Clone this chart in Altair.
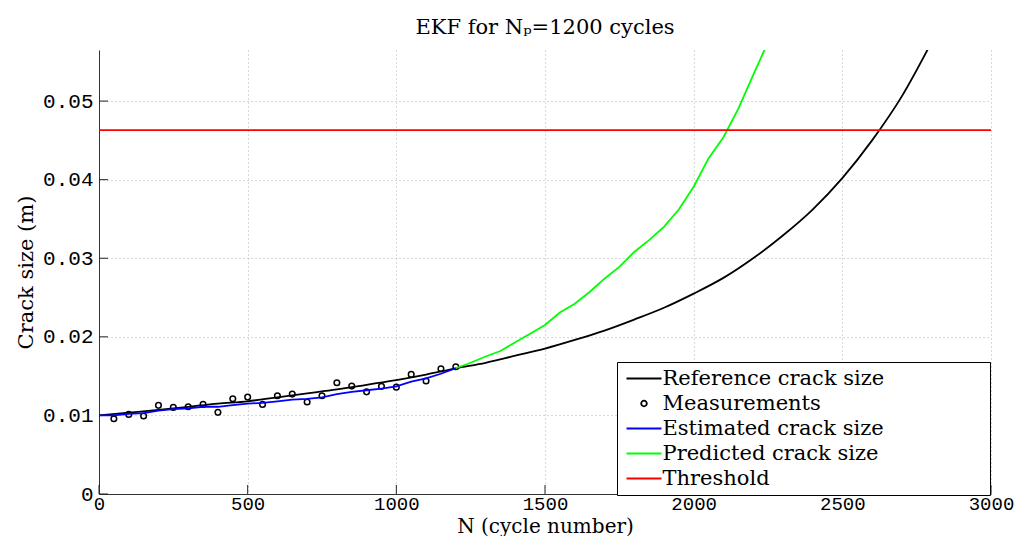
import altair as alt
import pandas as pd

# ---- data ----
series_names = ["Reference crack size", "Measurements", "Estimated crack size",
                "Predicted crack size", "Threshold"]
series_colors = ["#000000", "#000000", "#0000ff", "#00ff00", "#ff0000"]

ref_n = [0, 100, 200, 300, 400, 500, 600, 700, 800, 900, 1000, 1100, 1200, 1300,
         1400, 1500, 1600, 1700, 1800, 1900, 2000, 2100, 2200, 2300, 2400, 2500,
         2600, 2700, 2800]
ref_a = [0.0100, 0.01035, 0.0107, 0.0111, 0.0115, 0.0118, 0.0123, 0.0128, 0.0133,
         0.0139, 0.0145, 0.0152, 0.0160, 0.0167, 0.0176, 0.0185, 0.0196, 0.0208,
         0.0222, 0.0237, 0.0255, 0.0275, 0.0300, 0.0329, 0.0362, 0.0402, 0.0450,
         0.0506, 0.0575]

meas_n = [50, 100, 150, 200, 250, 300, 350, 400, 450, 500, 550, 600, 650, 700,
          750, 800, 850, 900, 950, 1000, 1050, 1100, 1150, 1200]
meas_a = [0.00957, 0.01013, 0.00992, 0.01128, 0.01102, 0.0111, 0.0114, 0.01039,
          0.01212, 0.01233, 0.0114, 0.0125, 0.01271, 0.0117, 0.0125, 0.01415,
          0.01373, 0.0130, 0.0137, 0.0136, 0.01522, 0.01437, 0.01593, 0.01619]

est_n = [0, 50, 100, 150, 200, 250, 300, 350, 400, 450, 500, 550, 600, 650, 700,
         750, 800, 850, 900, 950, 1000, 1050, 1100, 1150, 1200]
est_a = [0.0100, 0.0100, 0.0102, 0.0103, 0.0106, 0.0108, 0.0109, 0.0111, 0.0111,
         0.0113, 0.0115, 0.0116, 0.0118, 0.0120, 0.0121, 0.0123, 0.0127, 0.0130,
         0.0132, 0.0134, 0.0137, 0.0143, 0.0147, 0.0153, 0.0160]

pred_n = [1200, 1250, 1300, 1350, 1400, 1450, 1500, 1550, 1600, 1650, 1700, 1750,
          1800, 1850, 1900, 1950, 2000, 2050, 2100, 2150, 2200, 2250]
pred_a = [0.0160, 0.0167, 0.0175, 0.0182, 0.0193, 0.0204, 0.0215, 0.0231, 0.0242,
          0.0257, 0.0274, 0.0289, 0.0308, 0.0323, 0.0340, 0.0362, 0.0391, 0.0427,
          0.0454, 0.0490, 0.0533, 0.0575]

thr_n = [0, 3000]
thr_a = [0.0463, 0.0463]

x_ticks = [0, 500, 1000, 1500, 2000, 2500, 3000]
y_ticks = [0, 0.01, 0.02, 0.03, 0.04, 0.05]

# ---- tables ----
ref_df = pd.DataFrame({"N": ref_n, "a": ref_a, "series": series_names[0]})
lines = pd.concat([
    pd.DataFrame({"N": est_n, "a": est_a, "series": series_names[2]}),
    pd.DataFrame({"N": pred_n, "a": pred_a, "series": series_names[3]}),
    pd.DataFrame({"N": thr_n, "a": thr_a, "series": series_names[4]}),
], ignore_index=True)
meas = pd.DataFrame({"N": meas_n, "a": meas_a, "series": series_names[1]})
xt = pd.DataFrame({"N": x_ticks})
yt = pd.DataFrame({"a": y_ticks})

SERIF = "DejaVu Serif"
MONO = "Liberation Mono"

line_path = "M-2.5,0L2.5,0"
circ_path = "M-0.4,0A0.4,0.4,0,1,0,0.4,0A0.4,0.4,0,1,0,-0.4,0Z"
shape_range = [line_path, circ_path, line_path, line_path, line_path]

x_scale = alt.Scale(domain=[0, 3000], nice=False, zero=False)
y_scale = alt.Scale(domain=[0, 0.0565], nice=False, zero=False)

x_axis = alt.Axis(values=x_ticks, format="d", title="N (cycle number)",
                  grid=True, ticks=False, tickSize=0, labelPadding=0,
                  labelFontSize=19, titleFontSize=20,
                  labelFlush=False, titleBaseline="alphabetic", titleY=38)
y_axis = alt.Axis(values=y_ticks, format=".2~f", title="Crack size (m)",
                  grid=True, ticks=False, tickSize=0, labelPadding=6,
                  labelFlush=False, titlePadding=6)

legend = alt.Legend(orient="none", legendX=518, legendY=312, title=" ",
                    titleOrient="right", titlePadding=100,
                    strokeColor="black", fillColor="white", padding=6,
                    labelFont=SERIF, labelFontSize=21, labelLimit=500,
                    labelColor="black", symbolSize=196,
                    symbolStrokeWidth=1.8, symbolOffset=10.5, labelOffset=8,
                    rowPadding=3.0)

color = alt.Color("series:N",
                  scale=alt.Scale(domain=series_names, range=series_colors),
                  legend=legend, sort=series_names)

ref_layer = alt.Chart(ref_df).mark_line(clip=True, strokeWidth=1.8,
                                        interpolate="monotone").encode(
    x=alt.X("N:Q", scale=x_scale, axis=x_axis),
    y=alt.Y("a:Q", scale=y_scale, axis=y_axis),
    color=color,
)

line_layer = alt.Chart(lines).mark_line(clip=True, strokeWidth=1.8).encode(
    x=alt.X("N:Q", scale=x_scale),
    y=alt.Y("a:Q", scale=y_scale),
    color=color,
    detail="series:N",
)

point_layer = alt.Chart(meas).mark_point(filled=False, size=196,
                                         strokeWidth=1.5, opacity=1).encode(
    x=alt.X("N:Q", scale=x_scale),
    y=alt.Y("a:Q", scale=y_scale),
    color=color,
    shape=alt.Shape("series:N",
                    scale=alt.Scale(domain=series_names, range=shape_range),
                    legend=legend, sort=series_names),
)

xtick_layer = alt.Chart(xt).mark_tick(orient="vertical", size=9, thickness=1,
                                      color="#222222", opacity=1).encode(
    x=alt.X("N:Q", scale=x_scale),
    y=alt.datum(0, scale=y_scale),
    yOffset=alt.value(-4.5),
)
ytick_layer = alt.Chart(yt).mark_tick(orient="horizontal", size=9, thickness=1,
                                      color="#222222", opacity=1).encode(
    y=alt.Y("a:Q", scale=y_scale),
    x=alt.datum(0, scale=x_scale),
    xOffset=alt.value(4.5),
)

chart = alt.layer(ref_layer, point_layer, line_layer, xtick_layer,
                  ytick_layer).properties(
    width=892, height=444,
    background="white",
    title=alt.TitleParams("EKF for Nₚ=1200 cycles", font=SERIF, fontSize=21,
                          fontWeight="normal", offset=12, anchor="middle",
                          color="black"),
    autosize=alt.AutoSizeParams(type="none"),
    padding={"left": 91, "top": 42, "right": 24, "bottom": 42},
).configure_view(stroke=None).configure_axis(
    labelFont=MONO, labelFontSize=21, labelColor="black",
    titleFont=SERIF, titleFontSize=21, titleFontWeight="normal", titleColor="black",
    gridColor="#b0b0b0", gridDash=[1, 3], gridWidth=1,
    domainColor="#333333", domainWidth=1,
)

chart.save("out.html", embed_options={"renderer": "svg", "actions": False})
